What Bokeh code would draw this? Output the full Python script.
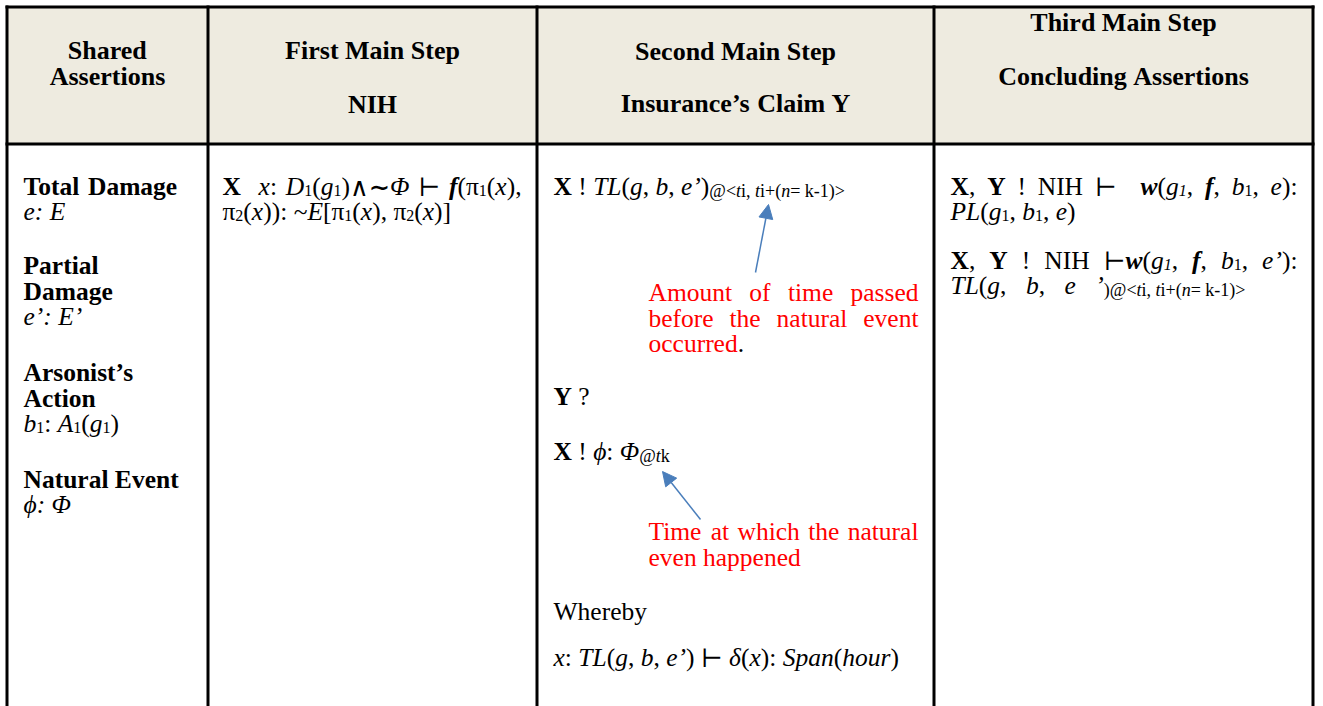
import os, re, glob, struct
from bokeh.plotting import figure
from bokeh.models import ColumnDataSource, Range1d, Arrow, NormalHead
from bokeh.embed import file_html
from bokeh.resources import INLINE

# ---------------- table content ----------------
header_titles = [["Shared", "Assertions"],
                 ["First Main Step", "NIH"],
                 ["Second Main Step", "Insurance’s Claim Y"],
                 ["Third Main Step", "Concluding Assertions"]]

shared_text = ["{B:Total Damage}", "{I:e: E}",
               "{B:Partial}", "{B:Damage}", "{I:e’: E’}",
               "{B:Arsonist’s}", "{B:Action}", "{I:b}{s:1}: {I:A}{s:1}({I:g}{s:1})",
               "{B:Natural Event}", "{I:ϕ: Φ}"]

first_text = ["{B:X}  {I:x}: {I:D}{s:1}({I:g}{s:1})∧{B:∼}{I:Φ} ⊢ {BI:f}(π{s:1}({I:x}),",
              "π{s:2}({I:x})): ~{I:E}[π{s:1}({I:x}), π{s:2}({I:x})]"]

second_text = ["{B:X} ! {I:TL}({I:g}, {I:b}, {I:e’}){t:@<}{ti:t}{t:i, }{ti:t}{t:i+(}{ti:n}{t:= k-1)>}",
               "{B:Y} ?",
               "{B:X} ! {I:ϕ}: {I:Φ}{t:@}{ti:t}{t:k}",
               "Whereby",
               "{I:x}: {I:TL}({I:g}, {I:b}, {I:e’}) ⊢ {I:δ}({I:x}): {I:Span}({I:hour})"]

note_text = ["Amount of time passed", "before the natural event", "occurred{K:.}",
             "Time at which the natural", "even happened"]

third_text = ["{B:X}, {B:Y} ! NIH ⊢  {BI:w}({I:g}{si:1}, {BI:f}, {I:b}{s:1}, {I:e}):",
              "{I:PL}({I:g}{s:1}, {I:b}{s:1}, {I:e})",
              "{B:X}, {B:Y} ! NIH ⊢{BI:w}({I:g}{si:1}, {BI:f}, {I:b}{s:1}, {I:e’}):",
              "{I:TL}({I:g}, {I:b}, {I:e ’}{t:)@<}{ti:t}{t:i, }{ti:t}{t:i+(}{ti:n}{t:= k-1)>}"]

# ---------------- layout / styling ----------------
col_edges = [6.5, 207.5, 536.5, 933.5, 1312.5]
header_top, header_bottom, table_bottom = 6.5, 143.5, 706
header_fill = "#EEEBE0"
header_baselines = [[59, 85], [59, 113], [59.5, 111.5], [31, 85]]

shared_x, shared_baselines = 23, [195, 220, 274, 300, 325, 381, 407, 432, 488, 513]
first_x, first_right, first_baselines = 222, [521, None], [195, 220]
second_x, second_baselines = 553, [195, 405, 460, 620, 666]
note_x, note_right = 648, [918, 918, None, 918, None]
note_baselines = [301, 327, 352, 540, 566]
third_x, third_right, third_baselines = 950, [1297, None, 1297, 1245], [195, 220, 269, 294]

arrow_tail_x, arrow_tail_y = [755, 700], [272, 519]
arrow_tip_x, arrow_tip_y = [768, 662], [204, 471]
arrow_color = "#4A7EBB"
note_color = "#FF0000"

MAIN, SUB, SUBDY, TSUB, TSUBDY, HEAD = 25.5, 16, 4, 18, 4, 26
BASELINE_SHIFT = 8.7   # px: Bokeh draws the alphabetic baseline this much below y
STYLES = {"R": ("normal", MAIN, 0, None), "B": ("bold", MAIN, 0, None),
          "I": ("italic", MAIN, 0, None), "BI": ("bold italic", MAIN, 0, None),
          "s": ("normal", SUB, SUBDY, None), "si": ("italic", SUB, SUBDY, None),
          "t": ("normal", TSUB, TSUBDY, None), "ti": ("italic", TSUB, TSUBDY, None),
          "K": ("normal", MAIN, 0, "#000000"), "H": ("bold", HEAD, 0, None)}

# ---------------- font metrics (for placing runs of mixed styles) ----------------
PRIMARY = "Liberation Serif"
FAMILY_FILES = {
    "Liberation Serif": {"normal": "LiberationSerif-Regular.ttf", "bold": "LiberationSerif-Bold.ttf",
                         "italic": "LiberationSerif-Italic.ttf", "bold italic": "LiberationSerif-BoldItalic.ttf"},
    "DejaVu Serif": {"normal": "DejaVuSerif.ttf", "bold": "DejaVuSerif-Bold.ttf",
                     "italic": "DejaVuSerif-Italic.ttf", "bold italic": "DejaVuSerif-BoldItalic.ttf"},
    "DejaVu Sans": {"normal": "DejaVuSans.ttf", "bold": "DejaVuSans-Bold.ttf",
                    "italic": "DejaVuSans-Oblique.ttf", "bold italic": "DejaVuSans-BoldOblique.ttf"},
}
FAMILY_ORDER = ["Liberation Serif", "DejaVu Serif", "DejaVu Sans"]

FONT_INDEX = {}
for root in ["/usr/share/fonts", "/usr/local/share/fonts", os.path.expanduser("~/.fonts"),
             os.path.expanduser("~/.local/share/fonts")]:
    try:
        for pth in glob.glob(os.path.join(root, "**", "*.ttf"), recursive=True):
            FONT_INDEX.setdefault(os.path.basename(pth), pth)
    except Exception:
        pass


class FontMetrics:
    def __init__(self, path):
        with open(path, "rb") as fh:
            d = fh.read()
        n = struct.unpack(">H", d[4:6])[0]
        tabs = {}
        for i in range(n):
            tag, _cs, off, _ln = struct.unpack(">4sIII", d[12 + 16 * i:28 + 16 * i])
            tabs[tag] = off
        head = tabs[b"head"]
        self.upm = struct.unpack(">H", d[head + 18:head + 20])[0]
        hhea = tabs[b"hhea"]
        nh = struct.unpack(">H", d[hhea + 34:hhea + 36])[0]
        hm = tabs[b"hmtx"]
        self.adv = struct.unpack(">%dH" % (2 * nh), d[hm:hm + 4 * nh])[0::2]
        cm = tabs[b"cmap"]
        ns = struct.unpack(">H", d[cm + 2:cm + 4])[0]
        subs = []
        for i in range(ns):
            pid, eid, off = struct.unpack(">HHI", d[cm + 4 + 8 * i:cm + 12 + 8 * i])
            so = cm + off
            fmt = struct.unpack(">H", d[so:so + 2])[0]
            subs.append((pid, eid, so, fmt))
        self.map = {}
        chosen = None
        for pid, eid, so, fmt in subs:
            if fmt == 4 and ((pid == 3 and eid == 1) or pid == 0):
                chosen = (4, so)
                break
        if chosen is None:
            for pid, eid, so, fmt in subs:
                if fmt == 12:
                    chosen = (12, so)
                    break
        if chosen and chosen[0] == 4:
            so = chosen[1]
            segx2 = struct.unpack(">H", d[so + 6:so + 8])[0]
            seg = segx2 // 2
            ends = struct.unpack(">%dH" % seg, d[so + 14:so + 14 + segx2])
            st_off = so + 16 + segx2
            starts = struct.unpack(">%dH" % seg, d[st_off:st_off + segx2])
            dl_off = st_off + segx2
            deltas = struct.unpack(">%dh" % seg, d[dl_off:dl_off + segx2])
            ro_off = dl_off + segx2
            ros = struct.unpack(">%dH" % seg, d[ro_off:ro_off + segx2])
            for i in range(seg):
                s, e, dl, ro = starts[i], ends[i], deltas[i], ros[i]
                if s == 0xFFFF:
                    continue
                for c in range(s, e + 1):
                    if ro == 0:
                        g = (c + dl) & 0xFFFF
                    else:
                        a = ro_off + 2 * i + ro + 2 * (c - s)
                        g = struct.unpack(">H", d[a:a + 2])[0]
                        if g:
                            g = (g + dl) & 0xFFFF
                    if g:
                        self.map[c] = g
        elif chosen:
            so = chosen[1]
            ng = struct.unpack(">I", d[so + 12:so + 16])[0]
            for k in range(ng):
                sc, ec, sg = struct.unpack(">III", d[so + 16 + 12 * k:so + 28 + 12 * k])
                for c in range(sc, min(ec, 0x2FFFF) + 1):
                    self.map[c] = sg + (c - sc)

    def has(self, ch):
        return ord(ch) in self.map

    def width(self, ch):
        g = self.map.get(ord(ch), 0)
        return self.adv[min(g, len(self.adv) - 1)] / self.upm


_MCACHE = {}


def metrics(fam, style):
    key = (fam, style)
    if key not in _MCACHE:
        m = None
        fn = FAMILY_FILES.get(fam, {}).get(style)
        if fn and fn in FONT_INDEX:
            try:
                m = FontMetrics(FONT_INDEX[fn])
            except Exception:
                m = None
        _MCACHE[key] = m
    return _MCACHE[key]


def approx_width(ch):
    if ch == " ":
        return 0.25
    if ch in "il.,:;!’'|()[]tfjr-":
        return 0.31
    if ch in "mwMW@":
        return 0.88
    if ch.isupper():
        return 0.68
    return 0.5


def family_for(ch, style):
    if metrics(PRIMARY, style) is None:
        return PRIMARY
    for fam in FAMILY_ORDER:
        m = metrics(fam, style)
        if m is not None and m.has(ch):
            return fam
    return PRIMARY


def measure(text, fam, style, size):
    m = metrics(fam, style)
    if m is None:
        return sum(approx_width(c) for c in text) * size
    return sum(m.width(c) for c in text) * size


def parse_markup(s, default="R"):
    runs, pos = [], 0
    for mt in re.finditer(r"\{(\w+):([^}]*)\}", s):
        if mt.start() > pos:
            runs.append((default, s[pos:mt.start()]))
        runs.append((mt.group(1), mt.group(2)))
        pos = mt.end()
    if pos < len(s):
        runs.append((default, s[pos:]))
    return runs


rows = {"x": [], "y": [], "text": [], "font": [], "style": [], "size": [], "color": []}


def layout(markup, x0, y, color="#000000", right=None, center=None, default="R"):
    pieces = []
    for code, txt in parse_markup(markup, default):
        st, size, dy, col = STYLES[code]
        col = col or color
        for part in re.split(r"( )", txt):
            if part == "":
                continue
            if part == " ":
                pieces.append([" ", PRIMARY, st, size, dy, col, True])
                continue
            cur, buf = None, ""
            for ch in part:
                fam = family_for(ch, st)
                if buf and fam != cur:
                    pieces.append([buf, cur, st, size, dy, col, False])
                    buf = ""
                cur = fam
                buf += ch
            if buf:
                pieces.append([buf, cur, st, size, dy, col, False])
    widths = [measure(pc[0], pc[1], pc[2], pc[3]) for pc in pieces]
    total = sum(widths)
    stretch = [pc[6] and pc[3] >= MAIN for pc in pieces]
    nsp = sum(stretch)
    extra = 0.0
    if right is not None and nsp:
        extra = max((right - x0 - total) / nsp, -3.0)
    if center is not None:
        x0 = center - total / 2
    x = x0
    for pc, w, sflag in zip(pieces, widths, stretch):
        if not pc[6]:
            rows["x"].append(x)
            rows["y"].append(y + pc[4] - BASELINE_SHIFT)
            rows["text"].append(pc[0])
            rows["font"].append(pc[1])
            rows["style"].append(pc[2])
            rows["size"].append("%gpx" % pc[3])
            rows["color"].append(pc[5])
            x += w
        else:
            x += w + (extra if sflag else 0.0)


# headers
for i, lines in enumerate(header_titles):
    cx = (col_edges[i] + col_edges[i + 1]) / 2
    for ln, by in zip(lines, header_baselines[i]):
        layout(ln, 0, by, center=cx, default="H")

for t, by in zip(shared_text, shared_baselines):
    layout(t, shared_x, by)
for t, by, r in zip(first_text, first_baselines, first_right):
    layout(t, first_x, by, right=r)
for t, by in zip(second_text, second_baselines):
    layout(t, second_x, by)
for t, by, r in zip(note_text, note_baselines, note_right):
    layout(t, note_x, by, color=note_color, right=r)
for t, by, r in zip(third_text, third_baselines, third_right):
    layout(t, third_x, by, right=r)

# ---------------- figure ----------------
W, H = 1323, 706
p = figure(width=W, height=H, x_range=Range1d(0, W), y_range=Range1d(H, 0),
           output_backend="svg", toolbar_location=None, tools="",
           x_axis_location=None, y_axis_location=None, min_border=0)
p.grid.visible = False
p.outline_line_color = None
p.background_fill_color = "white"
p.border_fill_color = "white"

lw = 3
p.quad(left=[col_edges[0]], right=[col_edges[-1]], top=[header_top], bottom=[header_bottom],
       fill_color=header_fill, line_color=None)

p.segment(x0=col_edges, y0=[header_top - lw / 2] * len(col_edges), x1=col_edges,
          y1=[table_bottom] * len(col_edges), line_color="black", line_width=lw)
p.segment(x0=[col_edges[0] - lw / 2] * 2, y0=[header_top, header_bottom],
          x1=[col_edges[-1] + lw / 2] * 2, y1=[header_top, header_bottom],
          line_color="black", line_width=lw)

src = ColumnDataSource(rows)
p.text(x="x", y="y", text="text", text_font="font", text_font_style="style",
       text_font_size="size", text_color="color", text_align="left",
       text_baseline="alphabetic", source=src)

for xs, ys, xe, ye in zip(arrow_tail_x, arrow_tail_y, arrow_tip_x, arrow_tip_y):
    p.add_layout(Arrow(end=NormalHead(size=14, fill_color=arrow_color, line_color=arrow_color),
                       x_start=xs, y_start=ys, x_end=xe, y_end=ye,
                       line_color=arrow_color, line_width=1.5))

open("out.html", "w").write(file_html(p, INLINE))
